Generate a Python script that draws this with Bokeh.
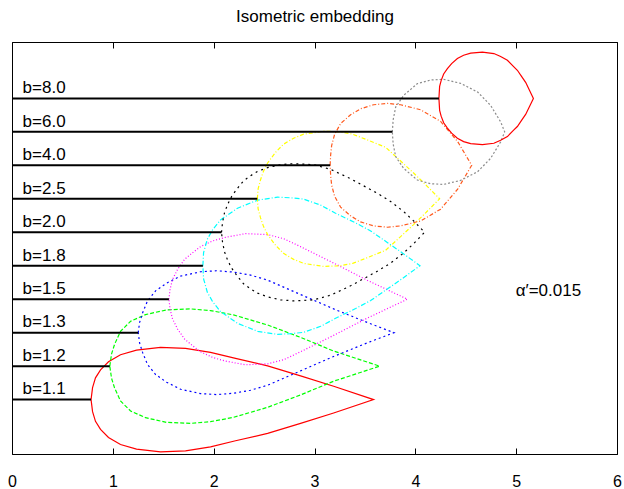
from bokeh.plotting import figure
from bokeh.models import Range1d, FixedTicker, LinearAxis, Label, ColumnDataSource, CustomJSTickFormatter
from bokeh.core.properties import value
from bokeh.embed import file_html
from bokeh.resources import INLINE

# ---- data ----
title_text = "Isometric embedding"
b_labels = ["b=1.1", "b=1.2", "b=1.3", "b=1.5", "b=1.8",
            "b=2.0", "b=2.5", "b=4.0", "b=6.0", "b=8.0"]
levels = [1, 2, 3, 4, 5, 6, 7, 8, 9, 10]          # vertical offset of each profile
x_ticks = [0, 1, 2, 3, 4, 5, 6]
alpha_text = "\u03b1\u2032=0.015"

# upper half of each (symmetric) profile: x position and half-height
x_b11 = [0.779, 0.794, 0.823, 0.873, 0.952, 1.071, 1.230, 1.468, 1.716, 1.964, 2.212, 2.530, 2.857, 3.185, 3.581]
h_b11 = [0, 0.36, 0.65, 0.89, 1.13, 1.34, 1.48, 1.56, 1.53, 1.41, 1.23, 1.01, 0.71, 0.40, 0]

x_b12 = [0.965, 0.982, 1.012, 1.071, 1.171, 1.319, 1.528, 1.766, 1.964, 2.192, 2.530, 2.857, 3.185, 3.641]
h_b12 = [0, 0.36, 0.65, 1.04, 1.34, 1.54, 1.68, 1.71, 1.66, 1.53, 1.23, 0.86, 0.45, 0]

x_b13 = [1.247, 1.260, 1.290, 1.339, 1.419, 1.528, 1.667, 1.865, 2.024, 2.192, 2.361, 2.530, 2.857, 3.185, 3.522, 3.783]
h_b13 = [0, 0.30, 0.59, 0.95, 1.25, 1.48, 1.69, 1.82, 1.85, 1.81, 1.72, 1.57, 1.14, 0.71, 0.30, 0]

x_b15 = [1.551, 1.563, 1.587, 1.637, 1.706, 1.786, 1.865, 1.984, 2.113, 2.312, 2.530, 2.688, 2.857, 3.185, 3.522, 3.916]
h_b15 = [0, 0.30, 0.59, 0.89, 1.19, 1.39, 1.57, 1.74, 1.85, 1.96, 1.93, 1.81, 1.57, 1.08, 0.56, 0]

x_b18 = [1.888, 1.895, 1.932, 1.984, 2.063, 2.232, 2.431, 2.629, 2.758, 2.887, 3.056, 3.204, 3.403, 3.552, 3.720, 3.849, 4.041]
h_b18 = [0, 0.39, 0.79, 1.07, 1.37, 1.72, 1.96, 2.05, 2.03, 1.99, 1.81, 1.57, 1.28, 1.04, 0.69, 0.42, 0]

x_b20 = [2.073, 2.083, 2.103, 2.133, 2.173, 2.222, 2.292, 2.361, 2.431, 2.530, 2.659, 2.788, 2.986, 3.155, 3.353, 3.621, 3.750, 3.879, 3.978, 4.087]
h_b20 = [0, 0.30, 0.59, 0.83, 1.07, 1.28, 1.54, 1.69, 1.82, 1.93, 2.02, 2.05, 2.02, 1.88, 1.60, 1.16, 0.92, 0.62, 0.34, 0]

x_b25 = [2.428, 2.436, 2.460, 2.490, 2.530, 2.609, 2.688, 2.788, 2.887, 3.085, 3.254, 3.373, 3.502, 3.700, 3.849, 3.978, 4.097, 4.236]
h_b25 = [0, 0.30, 0.57, 0.83, 1.07, 1.39, 1.63, 1.81, 1.93, 2.02, 2.00, 1.93, 1.78, 1.54, 1.13, 0.77, 0.42, 0]

x_b40 = [3.150, 3.155, 3.165, 3.194, 3.254, 3.353, 3.452, 3.581, 3.720, 3.849, 4.048, 4.246, 4.415, 4.554]
h_b40 = [0, 0.30, 0.59, 0.92, 1.25, 1.51, 1.69, 1.81, 1.85, 1.81, 1.66, 1.31, 0.71, 0]

x_b60 = [3.767, 3.775, 3.800, 3.879, 4.015, 4.147, 4.276, 4.444, 4.613, 4.742, 4.841, 4.881]
h_b60 = [0, 0.36, 0.74, 1.09, 1.44, 1.55, 1.57, 1.45, 1.19, 0.79, 0.30, 0]

x_b80 = [4.229, 4.236, 4.251, 4.276, 4.313, 4.355, 4.412, 4.474, 4.544, 4.660, 4.774, 4.841, 4.908, 4.970, 5.007, 5.050, 5.089, 5.166]
h_b80 = [0, 0.36, 0.53, 0.73, 0.89, 1.04, 1.19, 1.29, 1.35, 1.38, 1.34, 1.25, 1.14, 0.95, 0.84, 0.65, 0.48, 0]

curve_x = [x_b11, x_b12, x_b13, x_b15, x_b18, x_b20, x_b25, x_b40, x_b60, x_b80]
curve_h = [h_b11, h_b12, h_b13, h_b15, h_b18, h_b20, h_b25, h_b40, h_b60, h_b80]

# ---- styles ----
colors = ["#ff0000", "#00ff00", "#0000ff", "#ff00ff", "#00ffff",
          "#000000", "#ffff00", "#ff5a1e", "#8c8c8c", "#ff0000"]
dashes = ["solid", "4 2", "2 3", "1 2", "5 2 1 2",
          "2 4", "4 2 1 2", "4 2 1 2", "2 2", "solid"]
FONT = "Liberation Sans"
Y0, Y1 = -0.64, 11.67

p = figure(width=624, height=489, output_backend="svg", toolbar_location=None,
           x_range=Range1d(0, 6), y_range=Range1d(Y0, Y1),
           y_axis_location=None, x_axis_location="below", title=None,
           min_border_left=12, min_border_right=7, min_border_top=42, min_border_bottom=32,
           background_fill_color="white", border_fill_color="white")
p.grid.visible = False
p.outline_line_color = "black"
p.outline_line_width = 1

ax = p.xaxis[0]
ax.ticker = FixedTicker(ticks=x_ticks)
ax.major_tick_in = 6
ax.major_tick_out = 0
ax.minor_tick_line_color = None
ax.axis_line_color = "black"
ax.major_tick_line_color = "black"
ax.major_label_text_font = FONT
ax.major_label_text_font_size = "16px"
ax.major_label_text_color = "black"
ax.major_label_standoff = 20

# top axis: mirrored inward ticks, no tick labels, carries the title text
top = LinearAxis(ticker=FixedTicker(ticks=x_ticks), major_tick_in=6, major_tick_out=0,
                 minor_tick_line_color=None, axis_line_color="black",
                 formatter=CustomJSTickFormatter(code="return ''"),
                 major_label_standoff=0,
                 axis_label=title_text, axis_label_text_font=FONT,
                 axis_label_text_font_size="17px", axis_label_text_font_style="normal",
                 axis_label_text_color="black", axis_label_standoff=17)
p.add_layout(top, "above")

for i in range(len(levels)):
    xs = curve_x[i]
    hs = curve_h[i]
    lev = levels[i]
    px = list(xs) + list(reversed(xs))
    py = [lev + h for h in hs] + [lev - h for h in reversed(hs)]
    p.line(px, py, line_color=colors[i], line_width=1.2, line_dash=dashes[i],
           line_join="miter")

seg = ColumnDataSource(dict(x0=[0] * len(levels), x1=[c[0] for c in curve_x], y=levels))
p.segment(x0="x0", y0="y", x1="x1", y1="y", source=seg, line_color="black", line_width=2)

lab = ColumnDataSource(dict(x=[0.1] * len(levels), y=[l + 0.32 for l in levels], t=b_labels))
p.text(x="x", y="y", text="t", source=lab, text_font=value(FONT), text_font_size="17px",
       text_baseline="alphabetic", text_align="left", text_color="black")

p.add_layout(Label(x=4.99, y=4.25, text=alpha_text, text_font=FONT, text_font_size="17px",
                   text_baseline="alphabetic", text_color="black"))

open("out.html", "w").write(file_html(p, INLINE))
